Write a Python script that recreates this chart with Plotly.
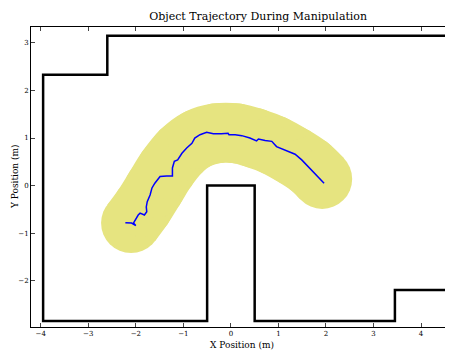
import plotly.graph_objects as go

# Walls (m)
wall_x = [5.0, -2.6, -2.6, -3.95, -3.95, -0.5, -0.5, 0.5, 0.5, 3.45, 3.45, 5.0]
wall_y = [3.15, 3.15, 2.33, 2.33, -2.85, -2.85, 0.0, 0.0, -2.85, -2.85, -2.2, -2.2]

# Planned corridor centre (m)
band_x = [-2.1, -1.85, -1.6, -1.35, -1.05, -0.7, -0.3, 0.1, 0.5, 0.9, 1.3, 1.65, 1.92]
band_y = [-0.79, -0.45, -0.05, 0.35, 0.72, 0.98, 1.1, 1.1, 1.0, 0.85, 0.63, 0.4, 0.14]

# Measured object trajectory (m)
traj_x = [-2.22, -2.09, -2.0, -2.05, -1.95, -1.91, -1.82, -1.77, -1.78, -1.76, -1.70, -1.66,
          -1.60, -1.49, -1.35, -1.23, -1.23, -1.19, -1.12, -1.03, -0.93, -0.82, -0.76,
          -0.65, -0.51, -0.37, -0.20, -0.06, -0.04, 0.09, 0.23, 0.40, 0.54, 0.58, 0.72,
          0.86, 0.96, 1.14, 1.35, 1.49, 1.63, 1.77, 1.87, 1.96]
traj_y = [-0.78, -0.79, -0.84, -0.79, -0.62, -0.58, -0.62, -0.55, -0.45, -0.34, -0.20, -0.05,
          0.05, 0.19, 0.20, 0.20, 0.37, 0.51, 0.54, 0.68, 0.79, 0.89, 1.00,
          1.07, 1.12, 1.09, 1.09, 1.10, 1.07, 1.07, 1.05, 1.00, 0.94, 0.98, 0.95,
          0.93, 0.82, 0.75, 0.66, 0.54, 0.40, 0.26, 0.16, 0.05]

x_ticks = [-4, -3, -2, -1, 0, 1, 2, 3, 4]
y_ticks = [-2, -1, 0, 1, 2, 3]

band_color = "#e6e480"
serif = "DejaVu Serif"
# the page body adds an 8 px offset; the figure is sized/placed to compensate
W, H = 446, 344
ML, MR, MT, MB = 23, 0, 19, 25

fig = go.Figure()
fig.add_trace(go.Scatter(
    x=band_x, y=band_y, mode="lines+markers",
    line=dict(color=band_color, width=60, shape="spline"),
    marker=dict(color=band_color, size=60, line=dict(width=0)),
    hoverinfo="skip", showlegend=False))
fig.add_trace(go.Scatter(
    x=wall_x, y=wall_y, mode="lines",
    line=dict(color="black", width=2.5), showlegend=False))
fig.add_trace(go.Scatter(
    x=traj_x, y=traj_y, mode="lines",
    line=dict(color="#0000ff", width=1.5), showlegend=False))

fig.update_layout(
    width=W, height=H,
    margin=dict(l=ML, r=MR, t=MT, b=MB),
    paper_bgcolor="white", plot_bgcolor="white",
    font=dict(family=serif, color="black"),
    title=dict(text="Object Trajectory During Manipulation", xref="paper",
               x=239.5 / W, xanchor="center",
               y=1 - 8 / H, yanchor="middle", font=dict(size=11, family=serif)),
    xaxis=dict(range=[-4.205, 4.693], tickvals=x_ticks, ticks="inside", ticklen=4,
               showline=True, linecolor="black", linewidth=1, mirror="ticks",
               showgrid=False, zeroline=False, automargin=False,
               tickfont=dict(size=7, family=serif)),
    yaxis=dict(range=[-2.976, 3.336], tickvals=y_ticks, ticks="inside", ticklen=4,
               showline=True, linecolor="black", linewidth=1,
               showgrid=False, zeroline=False, automargin=False,
               tickfont=dict(size=7, family=serif)),
    annotations=[
        dict(text="X Position (m)", xref="paper", yref="paper", x=(242 - 8 - ML) / (W - ML), y=0,
             yshift=-18, xanchor="center", yanchor="middle",
             showarrow=False, font=dict(size=9, family=serif)),
        dict(text="Y Position (m)", xref="paper", yref="paper", x=0, y=0.5,
             xshift=-16, xanchor="center", yanchor="middle", textangle=-90,
             showarrow=False, font=dict(size=9, family=serif)),
    ],
)

fig.write_html("out.html")
